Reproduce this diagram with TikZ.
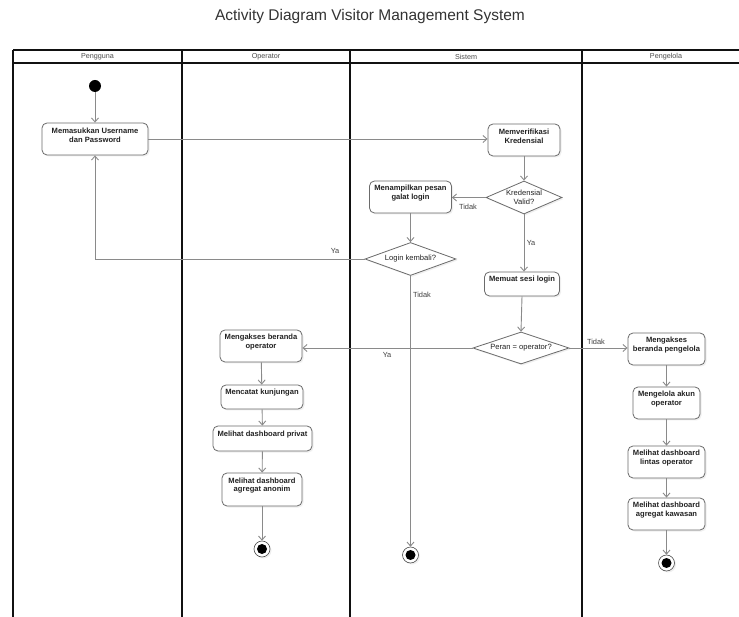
\documentclass[tikz,border=0pt]{standalone}
\usepackage{fontspec}
\setmainfont{Liberation Sans}
\usetikzlibrary{arrows.meta,shapes.geometric,shadows}

\definecolor{lanecol}{HTML}{111111}
\definecolor{flowcol}{HTML}{8A8A8A}
\definecolor{boxcol}{HTML}{6B6B6B}
\definecolor{inkcol}{HTML}{222222}
\definecolor{titlecol}{HTML}{333333}

\tikzset{
  lane/.style={draw=lanecol, line width=1.3pt},
  softshadow/.style={drop shadow={shadow xshift=1.5pt, shadow yshift=-1.5pt, fill=black!12}},
  boxframe/.style={draw=boxcol, line width=0.8pt, fill=white, rounded corners=5pt,
    inner sep=0pt, softshadow},
  boxtext/.style={font=\fontsize{7.6}{8.6}\selectfont\bfseries, text=inkcol,
    align=center, inner sep=0pt},
  decision/.style={diamond, draw=boxcol, line width=0.8pt, fill=white, inner sep=0pt,
    font=\fontsize{7.6}{8.6}\selectfont, text=inkcol, align=center, softshadow},
  flow/.style={draw=flowcol, line width=0.9pt, -{Straight Barb[length=4pt,width=7pt]}},
  guard/.style={font=\fontsize{7.4}{8}\selectfont, text=black!75, inner sep=0pt},
  lanehead/.style={font=\fontsize{7.2}{8}\selectfont, text=black!70, inner sep=0pt},
  initial/.style={circle, fill=black, minimum size=12pt, inner sep=0pt},
  final/.style={circle, draw=black!70, line width=0.6pt, fill=white, minimum size=16pt,
    inner sep=0pt, softshadow,
    path picture={\fill[black] (path picture bounding box.center) circle (5pt);}},
}

% activity box: name, x, y, width, height, text (text sits slightly above centre)
\newcommand{\actbox}[6]{%
  \node[boxframe, minimum width=#4pt, minimum height=#5pt] (#1) at (#2,#3) {};
  \node[boxtext] (#1-text) at (#2,#3-4) {#6};
}

\begin{document}
\begin{tikzpicture}[x=1pt, y=-1pt]
\useasboundingbox (0,0) rectangle (739,617);
\fill[white] (0,0) rectangle (739,617);

% title
\node[font=\fontsize{15.5}{18}\selectfont, text=titlecol] (title) at (370,16)
  {Activity Diagram Visitor Management System};

% swimlanes
\draw[lane] (13,50) -- (739,50);
\draw[lane] (13,63) -- (739,63);
\draw[lane] (13,50) -- (13,617);
\draw[lane] (182,50) -- (182,617);
\draw[lane] (350,50) -- (350,617);
\draw[lane] (582,50) -- (582,617);

\node[lanehead] (h1) at (97.5,56.5) {Pengguna};
\node[lanehead] (h2) at (266,56.5) {Operator};
\node[lanehead] (h3) at (466,56.5) {Sistem};
\node[lanehead] (h4) at (666,56.5) {Pengelola};

% Pengguna
\node[initial] (start) at (95,86) {};
\actbox{login}{95}{139}{106}{32}{Memasukkan Username\\dan Password}

% Sistem
\actbox{verify}{524}{140}{72}{32}{Memverifikasi\\Kredensial}
\node[decision, aspect=2.3, minimum width=76pt, minimum height=33pt] (valid) at (524,197.5)
  {Kredensial\\Valid?};
\actbox{error}{410.5}{197}{82}{32}{Menampilkan pesan\\galat login}
\node[decision, aspect=2.76, minimum width=91pt, minimum height=33pt] (retry) at (410.5,259)
  {Login kembali?};
\actbox{session}{522}{284}{75}{24}{Memuat sesi login}
\node[decision, aspect=3, minimum width=96pt, minimum height=32pt] (role) at (521,348)
  {Peran = operator?};
\node[final] (sysend) at (410.5,555) {};

% Operator
\actbox{ophome}{261}{346}{82}{32}{Mengakses beranda\\operator}
\actbox{visit}{262}{397}{82}{24}{Mencatat kunjungan}
\actbox{private}{262.5}{438.5}{99}{25}{Melihat dashboard privat}
\actbox{anon}{262}{489.5}{80}{33}{Melihat dashboard\\agregat anonim}
\node[final] (opend) at (262,549) {};

% Pengelola
\actbox{mghome}{666.5}{349}{77}{32}{Mengakses\\beranda pengelola}
\actbox{accounts}{666.5}{403}{67}{32}{Mengelola akun\\operator}
\actbox{cross}{666.5}{462}{77}{32}{Melihat dashboard\\lintas operator}
\actbox{region}{666.5}{514}{77}{32}{Melihat dashboard\\agregat kawasan}
\node[final] (mgend) at (666.5,563) {};

% control flow
\draw[flow] (start) -- (login);
\draw[flow] (login.east) -- (login.east -| verify.west);
\draw[flow] (verify.south) -- (valid.north);
\draw[flow] (valid.west) -- (valid.west -| error.east);
\draw[flow] (valid.south) -- (valid.south |- session.north);
\draw[flow] (error.south) -- (retry.north);
\draw[flow] (retry.west) -| (login.south);
\draw[flow] (retry.south) -- (sysend);
\draw[flow] (session.south) -- (role.north);
\draw[flow] (role.west) -- (role.west -| ophome.east);
\draw[flow] (role.east) -- (role.east -| mghome.west);

\draw[flow] (ophome) -- (visit);
\draw[flow] (visit) -- (private);
\draw[flow] (private) -- (anon);
\draw[flow] (anon) -- (opend);

\draw[flow] (mghome) -- (accounts);
\draw[flow] (accounts) -- (cross);
\draw[flow] (cross) -- (region);
\draw[flow] (region) -- (mgend);

% guards
\node[guard] (g-notvalid) at (468,207) {Tidak};
\node[guard] (g-valid) at (531,243) {Ya};
\node[guard] (g-retry) at (335,251) {Ya};
\node[guard] (g-noretry) at (422,295) {Tidak};
\node[guard] (g-operator) at (387,355) {Ya};
\node[guard] (g-manager) at (596,342) {Tidak};
\end{tikzpicture}
\end{document}
